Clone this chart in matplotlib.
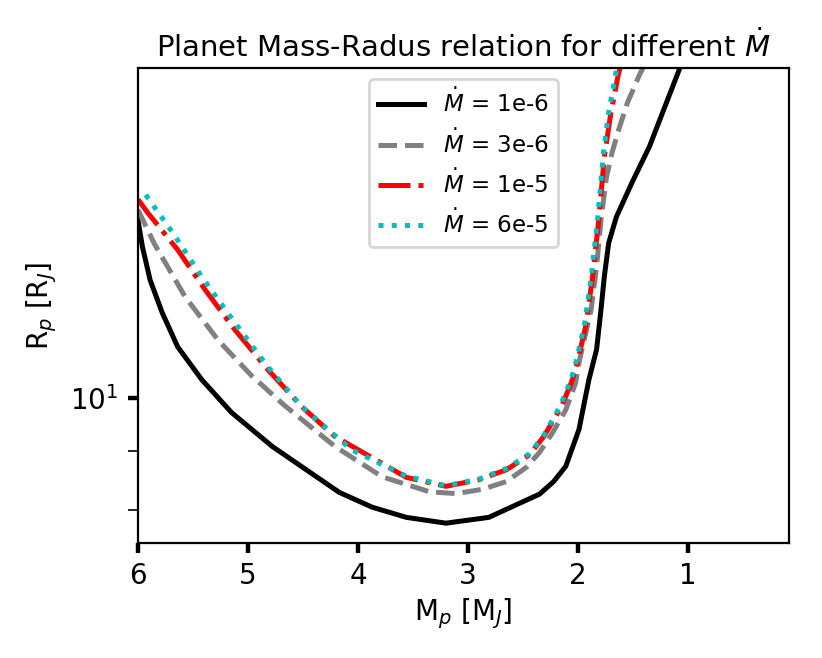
import matplotlib
matplotlib.use("Agg")
import matplotlib.pyplot as plt
from matplotlib.ticker import NullFormatter

plt.rcParams['font.size'] = 10

# Mdot = 1e-6
mass_1e6 = [6.0, 5.96, 5.89, 5.78, 5.64, 5.42, 5.15, 4.78, 4.17, 3.87, 3.56, 3.20,
            2.81, 2.51, 2.35, 2.22, 2.11, 1.99, 1.90, 1.83, 1.79, 1.76, 1.72, 1.65, 1.51,
            1.35, 1.08, 1.04]
rad_1e6 = [14.2, 13.48, 12.62, 11.83, 11.06, 10.36, 9.71, 9.08, 8.29, 8.05, 7.89, 7.80,
           7.89, 8.13, 8.26, 8.47, 8.73, 9.39, 10.36, 11.0, 11.90, 12.70, 13.58, 14.30, 15.29,
           16.43, 19.12, 19.7]

# Mdot = 3e-6
mass_3e6 = [6.0, 5.85, 5.57, 5.27, 4.97, 4.67, 4.21, 3.78, 3.35, 3.11, 2.87, 2.65,
            2.47, 2.35, 2.23, 2.11, 2.02, 1.99, 1.88, 1.83, 1.79, 1.74, 1.69, 1.63,
            1.55, 1.44, 1.35]
rad_3e6 = [14.5, 13.55, 12.2, 11.2, 10.45, 9.85, 9.08, 8.55, 8.30, 8.27, 8.34, 8.47,
           8.71, 8.97, 9.33, 9.76, 10.30, 10.72, 11.90, 12.96, 14.22, 15.47, 16.23, 16.98,
           17.92, 18.94, 19.7]

# Mdot = 1e-5
mass_1e5 = [6.0, 5.91, 5.64, 5.39, 5.12, 4.82, 4.51, 4.21, 3.89, 3.56, 3.20, 2.90,
            2.65, 2.44, 2.31, 2.15, 2.06, 2.02, 1.93, 1.87, 1.81, 1.76, 1.70, 1.63, 1.58]
rad_1e5 = [14.8, 14.41, 13.40, 12.38, 11.44, 10.57, 9.82, 9.26, 8.90, 8.54, 8.39, 8.50,
           8.67, 8.93, 9.26, 9.82, 10.30, 10.57, 11.51, 12.62, 14.22, 16.10, 17.57, 19.0, 19.7]

# Mdot = 6e-5
mass_6e5 = [5.93, 5.66, 5.42, 5.12, 4.82, 4.51, 4.06, 3.56, 3.20, 2.90, 2.65, 2.44,
            2.31, 2.16, 2.07, 2.03, 1.94, 1.88, 1.82, 1.77, 1.72, 1.65, 1.60]
rad_6e5 = [14.94, 13.75, 12.70, 11.60, 10.63, 9.82, 9.02, 8.56, 8.40, 8.51, 8.69, 8.95,
           9.28, 9.84, 10.32, 10.60, 11.55, 12.66, 14.26, 16.15, 17.6, 19.1, 19.7]

labels = [r'$\dot{M}$ = 1e-6', r'$\dot{M}$ = 3e-6', r'$\dot{M}$ = 1e-5', r'$\dot{M}$ = 6e-5']
x_ticks = [6, 5, 4, 3, 2, 1]

fig = plt.figure(figsize=(4.11, 3.29), dpi=200)
ax = fig.add_axes([0.1679, 0.1748, 0.792, 0.7219])

ax.plot(mass_1e6, rad_1e6, color='k', ls='-', lw=1.8, label=labels[0])
ax.plot(mass_3e6, rad_3e6, color='gray', ls='--', lw=1.8, label=labels[1])
ax.plot(mass_1e5, rad_1e5, color='r', ls='-.', lw=1.8, label=labels[2])
ax.plot(mass_6e5, rad_6e5, color='c', ls=':', lw=1.8, label=labels[3])

ax.set_yscale('log')
ax.set_xlim(6, 0.08)
ax.set_ylim(7.5, 19.2)
ax.set_xticks(x_ticks)
ax.yaxis.set_minor_formatter(NullFormatter())
ax.tick_params(which='major', length=3.5, width=1.6)
ax.tick_params(which='minor', length=3.5, width=0.6)

ax.set_xlabel(r'M$_p$ [M$_J$]', labelpad=2)
ax.set_ylabel(r'R$_p$ [R$_J$]')
ax.set_title(r'Planet Mass-Radus relation for different $\dot{M}$', fontsize=10.5, pad=4)
ax.legend(loc='upper center', fontsize=8.3)

fig.savefig('out.png', dpi=200)
